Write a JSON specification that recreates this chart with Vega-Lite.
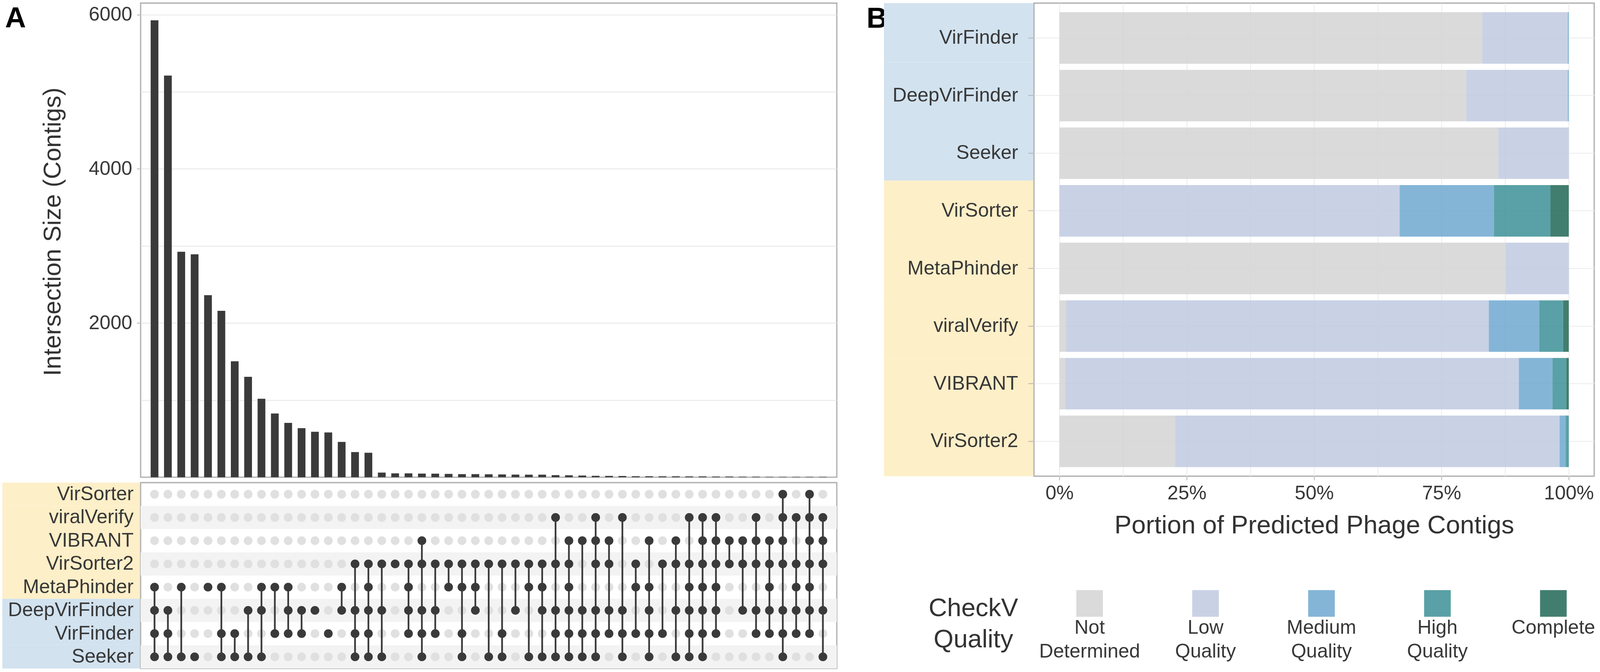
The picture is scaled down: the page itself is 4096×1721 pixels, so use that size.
{
  "$schema": "https://vega.github.io/schema/vega-lite/v6.json",
  "padding": {"left": 6, "top": 0, "right": 0, "bottom": 0},
  "background": "white",
  "config": {
    "font": "Liberation Sans",
    "view": {"stroke": "#b3b3b3", "strokeWidth": 3.3},
    "axis": {"labelFont": "Liberation Sans", "titleFont": "Liberation Sans", "labelColor": "#383838", "titleColor": "#333333", "titleFontWeight": "normal"}
  },
  "datasets": {
    "tools": [
      {"tool": "VirSorter", "r": 1, "method": "homology"},
      {"tool": "viralVerify", "r": 2, "method": "homology"},
      {"tool": "VIBRANT", "r": 3, "method": "homology"},
      {"tool": "VirSorter2", "r": 4, "method": "homology"},
      {"tool": "MetaPhinder", "r": 5, "method": "homology"},
      {"tool": "DeepVirFinder", "r": 6, "method": "sequence"},
      {"tool": "VirFinder", "r": 7, "method": "sequence"},
      {"tool": "Seeker", "r": 8, "method": "sequence"}
    ],
    "cols": [
      {"c": 1, "n": 5927, "VirSorter": 0, "viralVerify": 0, "VIBRANT": 0, "VirSorter2": 0, "MetaPhinder": 1, "DeepVirFinder": 1, "VirFinder": 1, "Seeker": 1},
      {"c": 2, "n": 5210, "VirSorter": 0, "viralVerify": 0, "VIBRANT": 0, "VirSorter2": 0, "MetaPhinder": 0, "DeepVirFinder": 1, "VirFinder": 1, "Seeker": 1},
      {"c": 3, "n": 2925, "VirSorter": 0, "viralVerify": 0, "VIBRANT": 0, "VirSorter2": 0, "MetaPhinder": 1, "DeepVirFinder": 0, "VirFinder": 0, "Seeker": 1},
      {"c": 4, "n": 2892, "VirSorter": 0, "viralVerify": 0, "VIBRANT": 0, "VirSorter2": 0, "MetaPhinder": 0, "DeepVirFinder": 0, "VirFinder": 0, "Seeker": 1},
      {"c": 5, "n": 2361, "VirSorter": 0, "viralVerify": 0, "VIBRANT": 0, "VirSorter2": 0, "MetaPhinder": 1, "DeepVirFinder": 0, "VirFinder": 0, "Seeker": 0},
      {"c": 6, "n": 2159, "VirSorter": 0, "viralVerify": 0, "VIBRANT": 0, "VirSorter2": 0, "MetaPhinder": 1, "DeepVirFinder": 0, "VirFinder": 1, "Seeker": 1},
      {"c": 7, "n": 1504, "VirSorter": 0, "viralVerify": 0, "VIBRANT": 0, "VirSorter2": 0, "MetaPhinder": 0, "DeepVirFinder": 0, "VirFinder": 1, "Seeker": 1},
      {"c": 8, "n": 1302, "VirSorter": 0, "viralVerify": 0, "VIBRANT": 0, "VirSorter2": 0, "MetaPhinder": 0, "DeepVirFinder": 1, "VirFinder": 0, "Seeker": 1},
      {"c": 9, "n": 1018, "VirSorter": 0, "viralVerify": 0, "VIBRANT": 0, "VirSorter2": 0, "MetaPhinder": 1, "DeepVirFinder": 1, "VirFinder": 0, "Seeker": 1},
      {"c": 10, "n": 826, "VirSorter": 0, "viralVerify": 0, "VIBRANT": 0, "VirSorter2": 0, "MetaPhinder": 1, "DeepVirFinder": 0, "VirFinder": 1, "Seeker": 0},
      {"c": 11, "n": 705, "VirSorter": 0, "viralVerify": 0, "VIBRANT": 0, "VirSorter2": 0, "MetaPhinder": 1, "DeepVirFinder": 1, "VirFinder": 1, "Seeker": 0},
      {"c": 12, "n": 637, "VirSorter": 0, "viralVerify": 0, "VIBRANT": 0, "VirSorter2": 0, "MetaPhinder": 0, "DeepVirFinder": 1, "VirFinder": 1, "Seeker": 0},
      {"c": 13, "n": 590, "VirSorter": 0, "viralVerify": 0, "VIBRANT": 0, "VirSorter2": 0, "MetaPhinder": 0, "DeepVirFinder": 1, "VirFinder": 0, "Seeker": 0},
      {"c": 14, "n": 581, "VirSorter": 0, "viralVerify": 0, "VIBRANT": 0, "VirSorter2": 0, "MetaPhinder": 0, "DeepVirFinder": 0, "VirFinder": 1, "Seeker": 0},
      {"c": 15, "n": 458, "VirSorter": 0, "viralVerify": 0, "VIBRANT": 0, "VirSorter2": 0, "MetaPhinder": 1, "DeepVirFinder": 1, "VirFinder": 0, "Seeker": 0},
      {"c": 16, "n": 326, "VirSorter": 0, "viralVerify": 0, "VIBRANT": 0, "VirSorter2": 1, "MetaPhinder": 0, "DeepVirFinder": 1, "VirFinder": 1, "Seeker": 1},
      {"c": 17, "n": 317, "VirSorter": 0, "viralVerify": 0, "VIBRANT": 0, "VirSorter2": 1, "MetaPhinder": 1, "DeepVirFinder": 1, "VirFinder": 1, "Seeker": 1},
      {"c": 18, "n": 60, "VirSorter": 0, "viralVerify": 0, "VIBRANT": 0, "VirSorter2": 1, "MetaPhinder": 0, "DeepVirFinder": 1, "VirFinder": 0, "Seeker": 1},
      {"c": 19, "n": 50, "VirSorter": 0, "viralVerify": 0, "VIBRANT": 0, "VirSorter2": 1, "MetaPhinder": 0, "DeepVirFinder": 0, "VirFinder": 0, "Seeker": 0},
      {"c": 20, "n": 50, "VirSorter": 0, "viralVerify": 0, "VIBRANT": 0, "VirSorter2": 1, "MetaPhinder": 1, "DeepVirFinder": 1, "VirFinder": 1, "Seeker": 0},
      {"c": 21, "n": 47, "VirSorter": 0, "viralVerify": 0, "VIBRANT": 1, "VirSorter2": 1, "MetaPhinder": 0, "DeepVirFinder": 1, "VirFinder": 1, "Seeker": 1},
      {"c": 22, "n": 46, "VirSorter": 0, "viralVerify": 0, "VIBRANT": 0, "VirSorter2": 1, "MetaPhinder": 0, "DeepVirFinder": 1, "VirFinder": 1, "Seeker": 0},
      {"c": 23, "n": 43, "VirSorter": 0, "viralVerify": 0, "VIBRANT": 0, "VirSorter2": 1, "MetaPhinder": 1, "DeepVirFinder": 0, "VirFinder": 0, "Seeker": 0},
      {"c": 24, "n": 40, "VirSorter": 0, "viralVerify": 0, "VIBRANT": 0, "VirSorter2": 1, "MetaPhinder": 1, "DeepVirFinder": 0, "VirFinder": 1, "Seeker": 1},
      {"c": 25, "n": 40, "VirSorter": 0, "viralVerify": 0, "VIBRANT": 0, "VirSorter2": 1, "MetaPhinder": 1, "DeepVirFinder": 1, "VirFinder": 0, "Seeker": 0},
      {"c": 26, "n": 38, "VirSorter": 0, "viralVerify": 0, "VIBRANT": 0, "VirSorter2": 1, "MetaPhinder": 0, "DeepVirFinder": 0, "VirFinder": 0, "Seeker": 1},
      {"c": 27, "n": 36, "VirSorter": 0, "viralVerify": 0, "VIBRANT": 0, "VirSorter2": 1, "MetaPhinder": 0, "DeepVirFinder": 0, "VirFinder": 1, "Seeker": 1},
      {"c": 28, "n": 34, "VirSorter": 0, "viralVerify": 0, "VIBRANT": 0, "VirSorter2": 1, "MetaPhinder": 0, "DeepVirFinder": 1, "VirFinder": 0, "Seeker": 0},
      {"c": 29, "n": 33, "VirSorter": 0, "viralVerify": 0, "VIBRANT": 0, "VirSorter2": 1, "MetaPhinder": 1, "DeepVirFinder": 0, "VirFinder": 0, "Seeker": 1},
      {"c": 30, "n": 33, "VirSorter": 0, "viralVerify": 0, "VIBRANT": 0, "VirSorter2": 1, "MetaPhinder": 1, "DeepVirFinder": 1, "VirFinder": 0, "Seeker": 1},
      {"c": 31, "n": 27, "VirSorter": 0, "viralVerify": 1, "VIBRANT": 0, "VirSorter2": 1, "MetaPhinder": 0, "DeepVirFinder": 1, "VirFinder": 1, "Seeker": 1},
      {"c": 32, "n": 25, "VirSorter": 0, "viralVerify": 0, "VIBRANT": 1, "VirSorter2": 1, "MetaPhinder": 1, "DeepVirFinder": 1, "VirFinder": 1, "Seeker": 1},
      {"c": 33, "n": 22, "VirSorter": 0, "viralVerify": 0, "VIBRANT": 1, "VirSorter2": 0, "MetaPhinder": 0, "DeepVirFinder": 1, "VirFinder": 1, "Seeker": 1},
      {"c": 34, "n": 18, "VirSorter": 0, "viralVerify": 1, "VIBRANT": 1, "VirSorter2": 1, "MetaPhinder": 0, "DeepVirFinder": 1, "VirFinder": 1, "Seeker": 1},
      {"c": 35, "n": 17, "VirSorter": 0, "viralVerify": 0, "VIBRANT": 1, "VirSorter2": 1, "MetaPhinder": 0, "DeepVirFinder": 1, "VirFinder": 1, "Seeker": 0},
      {"c": 36, "n": 16, "VirSorter": 0, "viralVerify": 1, "VIBRANT": 0, "VirSorter2": 0, "MetaPhinder": 0, "DeepVirFinder": 1, "VirFinder": 1, "Seeker": 1},
      {"c": 37, "n": 13, "VirSorter": 0, "viralVerify": 0, "VIBRANT": 0, "VirSorter2": 1, "MetaPhinder": 1, "DeepVirFinder": 0, "VirFinder": 1, "Seeker": 0},
      {"c": 38, "n": 13, "VirSorter": 0, "viralVerify": 0, "VIBRANT": 1, "VirSorter2": 0, "MetaPhinder": 1, "DeepVirFinder": 1, "VirFinder": 1, "Seeker": 1},
      {"c": 39, "n": 12, "VirSorter": 0, "viralVerify": 0, "VIBRANT": 0, "VirSorter2": 1, "MetaPhinder": 0, "DeepVirFinder": 0, "VirFinder": 1, "Seeker": 0},
      {"c": 40, "n": 12, "VirSorter": 0, "viralVerify": 0, "VIBRANT": 1, "VirSorter2": 1, "MetaPhinder": 0, "DeepVirFinder": 1, "VirFinder": 0, "Seeker": 1},
      {"c": 41, "n": 11, "VirSorter": 0, "viralVerify": 1, "VIBRANT": 0, "VirSorter2": 1, "MetaPhinder": 1, "DeepVirFinder": 1, "VirFinder": 1, "Seeker": 1},
      {"c": 42, "n": 11, "VirSorter": 0, "viralVerify": 1, "VIBRANT": 1, "VirSorter2": 1, "MetaPhinder": 1, "DeepVirFinder": 1, "VirFinder": 1, "Seeker": 1},
      {"c": 43, "n": 9, "VirSorter": 0, "viralVerify": 1, "VIBRANT": 1, "VirSorter2": 1, "MetaPhinder": 1, "DeepVirFinder": 1, "VirFinder": 1, "Seeker": 0},
      {"c": 44, "n": 9, "VirSorter": 0, "viralVerify": 0, "VIBRANT": 1, "VirSorter2": 1, "MetaPhinder": 0, "DeepVirFinder": 0, "VirFinder": 0, "Seeker": 0},
      {"c": 45, "n": 7, "VirSorter": 0, "viralVerify": 0, "VIBRANT": 1, "VirSorter2": 1, "MetaPhinder": 0, "DeepVirFinder": 1, "VirFinder": 0, "Seeker": 0},
      {"c": 46, "n": 7, "VirSorter": 0, "viralVerify": 1, "VIBRANT": 1, "VirSorter2": 1, "MetaPhinder": 0, "DeepVirFinder": 1, "VirFinder": 1, "Seeker": 0},
      {"c": 47, "n": 5, "VirSorter": 0, "viralVerify": 0, "VIBRANT": 1, "VirSorter2": 1, "MetaPhinder": 1, "DeepVirFinder": 1, "VirFinder": 1, "Seeker": 0},
      {"c": 48, "n": 5, "VirSorter": 1, "viralVerify": 1, "VIBRANT": 1, "VirSorter2": 1, "MetaPhinder": 0, "DeepVirFinder": 1, "VirFinder": 1, "Seeker": 1},
      {"c": 49, "n": 5, "VirSorter": 0, "viralVerify": 1, "VIBRANT": 0, "VirSorter2": 1, "MetaPhinder": 1, "DeepVirFinder": 1, "VirFinder": 1, "Seeker": 0},
      {"c": 50, "n": 5, "VirSorter": 1, "viralVerify": 1, "VIBRANT": 1, "VirSorter2": 1, "MetaPhinder": 1, "DeepVirFinder": 1, "VirFinder": 1, "Seeker": 0},
      {"c": 51, "n": 5, "VirSorter": 0, "viralVerify": 1, "VIBRANT": 1, "VirSorter2": 1, "MetaPhinder": 0, "DeepVirFinder": 1, "VirFinder": 0, "Seeker": 1}
    ],
    "quality": [
      {"tool": "VirFinder", "q": "Not Determined", "k": 1, "p": 83.0},
      {"tool": "VirFinder", "q": "Low Quality", "k": 2, "p": 16.8},
      {"tool": "VirFinder", "q": "Medium Quality", "k": 3, "p": 0.2},
      {"tool": "DeepVirFinder", "q": "Not Determined", "k": 1, "p": 79.9},
      {"tool": "DeepVirFinder", "q": "Low Quality", "k": 2, "p": 19.9},
      {"tool": "DeepVirFinder", "q": "Medium Quality", "k": 3, "p": 0.2},
      {"tool": "Seeker", "q": "Not Determined", "k": 1, "p": 86.2},
      {"tool": "Seeker", "q": "Low Quality", "k": 2, "p": 13.8},
      {"tool": "VirSorter", "q": "Low Quality", "k": 2, "p": 66.8},
      {"tool": "VirSorter", "q": "Medium Quality", "k": 3, "p": 18.5},
      {"tool": "VirSorter", "q": "High Quality", "k": 4, "p": 11.1},
      {"tool": "VirSorter", "q": "Complete", "k": 5, "p": 3.6},
      {"tool": "MetaPhinder", "q": "Not Determined", "k": 1, "p": 87.6},
      {"tool": "MetaPhinder", "q": "Low Quality", "k": 2, "p": 12.4},
      {"tool": "viralVerify", "q": "Not Determined", "k": 1, "p": 1.3},
      {"tool": "viralVerify", "q": "Low Quality", "k": 2, "p": 83.0},
      {"tool": "viralVerify", "q": "Medium Quality", "k": 3, "p": 9.9},
      {"tool": "viralVerify", "q": "High Quality", "k": 4, "p": 4.7},
      {"tool": "viralVerify", "q": "Complete", "k": 5, "p": 1.1},
      {"tool": "VIBRANT", "q": "Not Determined", "k": 1, "p": 1.1},
      {"tool": "VIBRANT", "q": "Low Quality", "k": 2, "p": 89.1},
      {"tool": "VIBRANT", "q": "Medium Quality", "k": 3, "p": 6.6},
      {"tool": "VIBRANT", "q": "High Quality", "k": 4, "p": 2.7},
      {"tool": "VIBRANT", "q": "Complete", "k": 5, "p": 0.5},
      {"tool": "VirSorter2", "q": "Not Determined", "k": 1, "p": 22.7},
      {"tool": "VirSorter2", "q": "Low Quality", "k": 2, "p": 75.5},
      {"tool": "VirSorter2", "q": "Medium Quality", "k": 3, "p": 1.2},
      {"tool": "VirSorter2", "q": "High Quality", "k": 4, "p": 0.6}
    ],
    "legend": [
      {"q": "Not Determined", "lab": ["Not", "Determined"]},
      {"q": "Low Quality", "lab": ["Low", "Quality"]},
      {"q": "Medium Quality", "lab": ["Medium", "Quality"]},
      {"q": "High Quality", "lab": ["High", "Quality"]},
      {"q": "Complete", "lab": ["Complete"]}
    ]
  },
  "bounds": "flush",
  "align": "each",
  "columns": 5,
  "spacing": 0,
  "resolve": {"scale": {"color": "independent", "x": "independent", "y": "independent"}, "legend": {"color": "independent"}},
  "concat": [
    {"width": 353.5, "height": 7.85, "data": {"values": []}, "mark": "point", "encoding": {}, "view": {"stroke": null}},
    {"width": 1782.2, "height": 7.85, "data": {"values": []}, "mark": "point", "encoding": {}, "view": {"stroke": null}},
    {"width": 119.3, "height": 7.85, "data": {"values": []}, "mark": "point", "encoding": {}, "view": {"stroke": null}},
    {"width": 384, "height": 7.85, "data": {"values": []}, "mark": "point", "encoding": {}, "view": {"stroke": null}},
    {"width": 1434.2, "height": 7.85, "data": {"values": []}, "mark": "point", "encoding": {}, "view": {"stroke": null}},

    {
      "width": 353.5, "height": 1214.15, "view": {"stroke": null},
      "data": {"values": [{"panel": "A"}]},
      "mark": {"type": "text", "fontSize": 74, "fontWeight": "bold", "color": "#000000", "align": "left", "baseline": "alphabetic"},
      "encoding": {
        "x": {"datum": 0.0198, "type": "quantitative", "scale": {"domain": [0, 1], "nice": false, "zero": false}, "axis": null},
        "y": {"datum": 0.0512, "type": "quantitative", "scale": {"domain": [0, 1], "reverse": true, "nice": false, "zero": false}, "axis": null},
        "text": {"field": "panel"}
      }
    },
    {
      "width": 1782.2,
      "height": 1214.15,
      "data": {"name": "cols"},
      "mark": {"type": "bar", "color": "#3a3a3a"},
      "encoding": {
        "x": {"field": "c", "type": "ordinal", "scale": {"paddingInner": 0.42, "paddingOuter": 0.75}, "axis": null},
        "y": {
          "field": "n", "type": "quantitative",
          "scale": {"domain": [0, 6150], "nice": false, "zero": true},
          "axis": {
            "values": [1000, 2000, 3000, 4000, 5000, 6000],
            "format": "d",
            "labelExpr": "datum.value % 2000 == 0 ? datum.label : ''",
            "grid": true, "gridColor": "#e6e6e6", "gridWidth": 2,
            "domain": false,
            "ticks": true, "tickSize": 10, "tickColor": "#b3b3b3", "tickWidth": 2,
            "tickOpacity": {"condition": {"test": "datum.value % 2000 == 0", "value": 1}, "value": 0},
            "labelFontSize": 50, "labelPadding": 12,
            "title": "Intersection Size (Contigs)", "titleFontSize": 63, "titlePadding": 59, "titleY": 585
          }
        }
      }
    },
    {
      "width": 119.3, "height": 1214.15, "view": {"stroke": null},
      "data": {"values": [{"panel": "B"}]},
      "mark": {"type": "text", "fontSize": 74, "fontWeight": "bold", "color": "#000000", "align": "left", "baseline": "alphabetic"},
      "encoding": {
        "x": {"datum": 0.631, "type": "quantitative", "scale": {"domain": [0, 1], "nice": false, "zero": false}, "axis": null},
        "y": {"datum": 0.052, "type": "quantitative", "scale": {"domain": [0, 1], "reverse": true, "nice": false, "zero": false}, "axis": null},
        "text": {"field": "panel"}
      }
    },
    {
      "width": 384,
      "height": 1211.5,
      "view": {"stroke": null},
      "data": {"name": "tools"},
      "mark": {"type": "rect"},
      "encoding": {
        "y": {"field": "tool", "type": "nominal", "scale": {"domain": ["VirFinder", "DeepVirFinder", "Seeker", "VirSorter", "MetaPhinder", "viralVerify", "VIBRANT", "VirSorter2"], "paddingInner": 0, "paddingOuter": 0}, "axis": null},
        "color": {"field": "method", "type": "nominal", "scale": {"domain": ["homology", "sequence"], "range": ["#fdefc8", "#d2e2ef"]}, "legend": null}
      }
    },
    {
      "width": 1434.2,
      "height": 1211.5,
      "data": {"name": "quality"},
      "mark": {"type": "bar", "opacity": 0.85},
      "encoding": {
        "y": {
          "field": "tool", "type": "nominal",
          "scale": {"domain": ["VirFinder", "DeepVirFinder", "Seeker", "VirSorter", "MetaPhinder", "viralVerify", "VIBRANT", "VirSorter2"], "paddingInner": 0.106, "paddingOuter": 0.158},
          "axis": {"title": null, "labelFontSize": 50, "labelPadding": 26, "tickSize": 15, "tickColor": "#b3b3b3", "tickWidth": 2, "domain": false, "grid": true, "gridColor": "#ebebeb", "gridWidth": 2, "labelLimit": 0}
        },
        "x": {
          "field": "p", "type": "quantitative", "stack": "normalize",
          "scale": {"domain": [-0.05, 1.05], "nice": false, "zero": false},
          "axis": {
            "values": [0, 0.125, 0.25, 0.375, 0.5, 0.625, 0.75, 0.875, 1],
            "format": ".0%",
            "labelExpr": "(datum.value * 4) % 1 == 0 ? datum.label : ''",
            "grid": true, "gridColor": "#ebebeb", "gridWidth": 2,
            "domain": false,
            "tickSize": 10, "tickColor": "#b3b3b3", "tickWidth": 2,
            "tickOpacity": {"condition": {"test": "(datum.value * 4) % 1 == 0", "value": 1}, "value": 0},
            "labelFontSize": 50, "labelPadding": 9, "labelFlush": false,
            "title": "Portion of Predicted Phage Contigs", "titleFontSize": 65.5, "titlePadding": 25
          }
        },
        "color": {
          "field": "q", "type": "nominal",
          "scale": {"domain": ["Not Determined", "Low Quality", "Medium Quality", "High Quality", "Complete"], "range": ["#d3d3d3", "#bfc9e0", "#6ea8d0", "#3c9096", "#216756"]},
          "legend": null
        },
        "order": {"field": "k", "type": "quantitative"}
      }
    },

    {"width": 353.5, "height": 12.5, "data": {"values": []}, "mark": "point", "encoding": {}, "view": {"stroke": null}},
    {"width": 1782.2, "height": 12.5, "data": {"values": []}, "mark": "point", "encoding": {}, "view": {"stroke": null}},
    {"width": 119.3, "height": 12.5, "data": {"values": []}, "mark": "point", "encoding": {}, "view": {"stroke": null}},
    {"width": 384, "height": 12.5, "data": {"values": []}, "mark": "point", "encoding": {}, "view": {"stroke": null}},
    {"width": 1434.2, "height": 12.5, "data": {"values": []}, "mark": "point", "encoding": {}, "view": {"stroke": null}},

    {
      "width": 353.5,
      "height": 475.9,
      "view": {"stroke": null},
      "data": {"name": "tools"},
      "mark": {"type": "rect"},
      "encoding": {
        "y": {
          "field": "tool", "type": "nominal",
          "scale": {"domain": ["VirSorter", "viralVerify", "VIBRANT", "VirSorter2", "MetaPhinder", "DeepVirFinder", "VirFinder", "Seeker"], "paddingInner": 0, "paddingOuter": 0},
          "axis": {"orient": "right", "labelAlign": "right", "labelPadding": -18, "ticks": false, "tickSize": 0, "domain": false, "grid": false, "title": null, "labelFontSize": 50, "zindex": 1, "labelLimit": 0}
        },
        "color": {"field": "method", "type": "nominal", "scale": {"domain": ["homology", "sequence"], "range": ["#fdefc8", "#d2e2ef"]}, "legend": null}
      }
    },
    {
      "width": 1782.2,
      "height": 475.9,
      "data": {"name": "cols"},
      "layer": [
        {
          "data": {"name": "tools"},
          "transform": [{"filter": "datum.r % 2 == 0"}],
          "mark": {"type": "rect", "color": "#f3f3f3"},
          "encoding": {
            "y": {"field": "tool", "type": "nominal", "scale": {"domain": ["VirSorter", "viralVerify", "VIBRANT", "VirSorter2", "MetaPhinder", "DeepVirFinder", "VirFinder", "Seeker"], "paddingInner": 0, "paddingOuter": 0}, "axis": null}
          }
        },
        {
          "transform": [
            {"fold": ["VirSorter", "viralVerify", "VIBRANT", "VirSorter2", "MetaPhinder", "DeepVirFinder", "VirFinder", "Seeker"], "as": ["tool", "m"]},
            {"filter": "datum.m == 0"}
          ],
          "mark": {"type": "circle", "size": 499, "color": "#e0e0e0", "opacity": 1},
          "encoding": {
            "x": {"field": "c", "type": "ordinal", "scale": {"type": "band", "paddingInner": 0.42, "paddingOuter": 0.75}, "axis": null},
            "y": {"field": "tool", "type": "nominal", "axis": null}
          }
        },
        {
          "transform": [
            {"fold": ["VirSorter", "viralVerify", "VIBRANT", "VirSorter2", "MetaPhinder", "DeepVirFinder", "VirFinder", "Seeker"], "as": ["tool", "m"]},
            {"filter": "datum.m == 1"},
            {"lookup": "tool", "from": {"data": {"name": "tools"}, "key": "tool", "fields": ["r"]}},
            {"aggregate": [{"op": "argmin", "field": "r", "as": "top"}, {"op": "argmax", "field": "r", "as": "bot"}], "groupby": ["c"]}
          ],
          "mark": {"type": "rule", "color": "#3a3a3a", "strokeWidth": 4.4},
          "encoding": {
            "x": {"field": "c", "type": "ordinal", "axis": null},
            "y": {"field": "top.tool", "type": "nominal", "axis": null},
            "y2": {"field": "bot.tool"}
          }
        },
        {
          "transform": [
            {"fold": ["VirSorter", "viralVerify", "VIBRANT", "VirSorter2", "MetaPhinder", "DeepVirFinder", "VirFinder", "Seeker"], "as": ["tool", "m"]},
            {"filter": "datum.m == 1"}
          ],
          "mark": {"type": "circle", "size": 499, "color": "#3a3a3a", "opacity": 1},
          "encoding": {
            "x": {"field": "c", "type": "ordinal", "axis": null},
            "y": {"field": "tool", "type": "nominal", "axis": null}
          }
        }
      ]
    },
    {"width": 119.3, "height": 475.9, "data": {"values": []}, "mark": "point", "encoding": {}, "view": {"stroke": null}},
    {
      "width": 384, "height": 475.9, "view": {"stroke": null},
      "data": {"values": [{"t": ["CheckV", "Quality"]}]},
      "mark": {"type": "text", "fontSize": 65.5, "baseline": "alphabetic", "align": "center", "lineHeight": 80, "color": "#333333"},
      "encoding": {
        "x": {"datum": 0.596, "type": "quantitative", "scale": {"domain": [0, 1], "nice": false, "zero": false}, "axis": null},
        "y": {"datum": 0.719, "type": "quantitative", "scale": {"domain": [0, 1], "reverse": true, "nice": false, "zero": false}, "axis": null},
        "text": {"field": "t"}
      }
    },
    {
      "width": 1434.2,
      "height": 475.9,
      "view": {"stroke": null},
      "data": {"name": "legend"},
      "layer": [
        {
          "mark": {"type": "square", "size": 4651, "filled": true, "opacity": 0.85},
          "encoding": {
            "x": {"field": "q", "type": "nominal", "scale": {"type": "point", "domain": ["Not Determined", "Low Quality", "Medium Quality", "High Quality", "Complete"], "padding": 0.416, "align": 0.5765}, "axis": null},
            "y": {"datum": 0.65, "type": "quantitative", "scale": {"domain": [0, 1], "reverse": true, "nice": false, "zero": false}, "axis": null},
            "color": {
              "field": "q", "type": "nominal",
              "scale": {"domain": ["Not Determined", "Low Quality", "Medium Quality", "High Quality", "Complete"], "range": ["#d3d3d3", "#bfc9e0", "#6ea8d0", "#3c9096", "#216756"]},
              "legend": null
            }
          }
        },
        {
          "mark": {"type": "text", "fontSize": 50, "baseline": "alphabetic", "align": "center", "lineHeight": 61, "color": "#383838"},
          "encoding": {
            "x": {"field": "q", "type": "nominal", "axis": null},
            "y": {"datum": 0.814, "type": "quantitative", "axis": null},
            "text": {"field": "lab"}
          }
        }
      ]
    }
  ]
}
